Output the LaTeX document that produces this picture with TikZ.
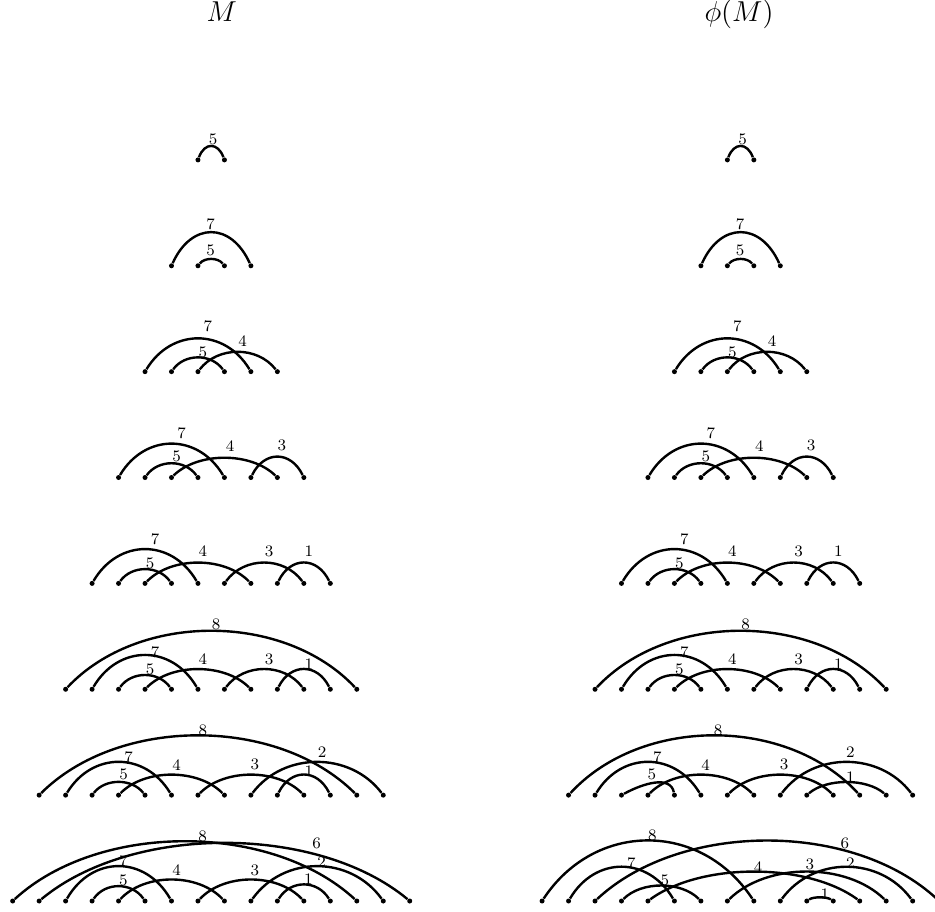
\documentclass[tikz,border=0pt]{standalone}
\usepackage{amsmath}
\usetikzlibrary{calc}

% one row of chords: side, row, list i/j/height/label/dx/dy
\newcommand{\chords}[3]{%
  \foreach \i/\j/\hh/\lab/\dx/\ly in #3{
    \pgfmathsetmacro{\q}{(\j-\i)*6.62}
    \pgfmathsetmacro{\cy}{\hh*4/3}
    \draw[chord] (#1#2-\i) .. controls +(\q,\cy) and +(-\q,\cy) .. (#1#2-\j);
    \node[lbl] (#1#2-t\lab) at ($(#1#2-\i)!0.5!(#1#2-\j)+(\dx,\ly)$) {\lab};
  }%
}

\def\rowi{1/2/13.3/5/2/21}
\def\rowii{1/4/33/7/-0.5/41.8, 2/3/6.3/5/-0.5/15.1}
\def\rowiii{1/5/32.7/7/10/45, 2/4/13.7/5/5/19.3, 3/6/19.3/4/5/31}
\def\rowiv{1/5/33.3/7/10/44.3, 2/4/13.7/5/5/21, 3/7/19.3/4/5.6/31, 6/8/20.3/3/4.4/31.7}
\def\rowv{1/5/33.7/7/10/44.3, 2/4/13.7/5/5/20.3, 3/7/20.3/4/5/32, 6/9/20.3/3/5/32, 8/10/20.3/1/5/32}
\def\rowvi{1/12/58/8/5/64.7, 2/6/33.7/7/10/37, 3/5/13.7/5/5/20.3, 4/8/19.7/4/5/30.3, 7/10/19.7/3/5/30.3, 9/11/19.7/1/5/25.3}

\begin{document}
\begin{tikzpicture}[x=0.5pt, y=0.5pt,
  dot/.style={circle, fill, inner sep=0pt, minimum size=2.5pt},
  chord/.style={line width=1.2pt},
  lbl/.style={font=\footnotesize, inner sep=0pt},
  title/.style={font=\Large, anchor=base}]

\useasboundingbox (0,0) rectangle (935,-911);
\clip (0,0) rectangle (935,-911);

\node[title] (tM) at (221.7,-21) {$M$};
\node[title] (tPhi) at (739,-21) {$\phi(M)$};

% points
\foreach \r in {1,...,8}{
  \pgfmathtruncatemacro{\n}{2*\r}
  \foreach \k in {1,...,\n}{
    \pgfmathsetmacro{\xx}{211.2+(\k-\r-0.5)*26.47}
    \pgfmathsetmacro{\yy}{-159.9-(\r-1)*105.87}
    \node[dot] (L\r-\k) at (\xx,\yy) {};
    \node[dot] (R\r-\k) at (\xx+529.4,\yy) {};
  }
}

% rows 1-6 are the same on both sides
\foreach \s in {L,R}{
  \chords{\s}{1}{\rowi}
  \chords{\s}{2}{\rowii}
  \chords{\s}{3}{\rowiii}
  \chords{\s}{4}{\rowiv}
  \chords{\s}{5}{\rowv}
  \chords{\s}{6}{\rowvi}
}

% M
\chords{L}{7}{{1/13/59.3/8/5/64.3, 2/6/32.7/7/10/37.7, 3/5/12.7/5/5/21, 4/8/20/4/5/30.3, 7/11/20/3/4/30.3, 9/14/32.7/2/5/42.7, 10/12/20/1/5/24.3}}
\chords{L}{8}{{1/14/59.3/8/18/65, 2/16/57.7/6/92.3/57.7, 3/7/34.3/7/4.7/39.3, 4/6/14.3/5/4.7/21, 5/9/21/4/5/31, 8/12/21/3/4/31, 10/15/34.3/2/4.6/39.3, 11/13/16/1/4.5/21.7}}

% phi(M)
\chords{R}{7}{{1/12/59.3/8/4/64.3, 2/6/32.7/7/9.5/37.7, 4/8/20/4/4.6/30.3, 7/11/20/3/3.8/30.3, 9/14/32.7/2/4/42.7, 10/13/12.7/1/4/17.7}}
\draw[chord] (R7-3) .. controls +(22,12) and +(-4,20) .. (R7-5);
\node[lbl] (R7-t5) at ($(R7-3)!0.5!(R7-5)+(4,20.3)$) {5};
\chords{R}{8}{{1/9/60/8/4.5/66, 2/6/33.7/7/10/37.7, 3/16/60/6/77.7/57.7, 4/7/15/5/3.6/21, 5/13/29/4/4.3/34.3, 8/14/29/3/3/36.7, 10/15/33.7/2/4/37.7, 11/12/3.3/1/4.8/7}}

\end{tikzpicture}
\end{document}
